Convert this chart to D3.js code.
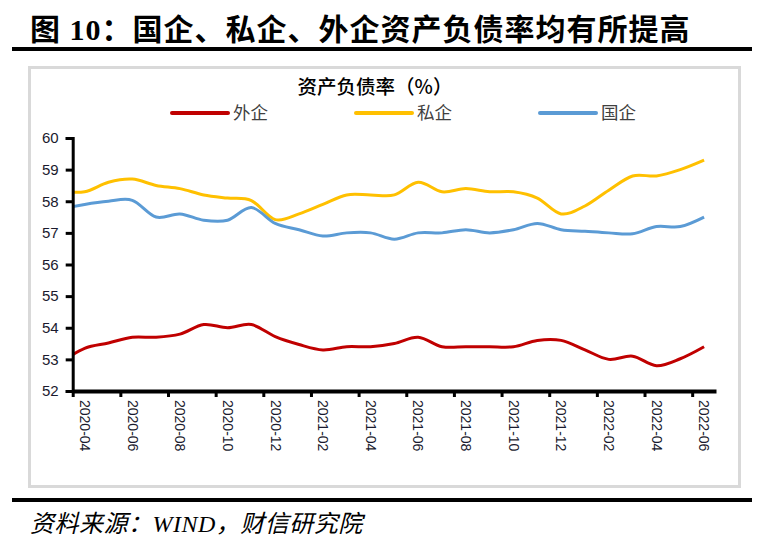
<!DOCTYPE html>
<html><head><meta charset="utf-8">
<script src="https://cdn.jsdelivr.net/npm/d3@7"></script>
<style>
body{margin:0;background:#fff;}
svg{display:block;}
</style></head>
<body>
<svg id="c" width="764" height="547"></svg>
<script>
// months (first one, 2020-03, lies just left of the axis and is clipped)
const months = ["2020-03","2020-04","2020-05","2020-06","2020-07","2020-08","2020-09","2020-10","2020-11","2020-12",
  "2021-01","2021-02","2021-03","2021-04","2021-05","2021-06","2021-07","2021-08","2021-09","2021-10","2021-11","2021-12",
  "2022-01","2022-02","2022-03","2022-04","2022-05","2022-06"];
const foreign = [52.9,53.35,53.52,53.7,53.7,53.8,54.1,54.0,54.1,53.72,53.47,53.3,53.4,53.4,53.5,53.7,53.4,53.4,53.4,53.4,53.6,53.6,53.3,53.0,53.1,52.8,53.02,53.4];
const privateE = [58.32,58.3,58.6,58.7,58.5,58.4,58.2,58.1,58.02,57.42,57.6,57.9,58.2,58.2,58.2,58.6,58.3,58.4,58.3,58.3,58.1,57.6,57.85,58.35,58.8,58.8,59.0,59.3];
const stateE = [57.75,57.9,58.0,58.03,57.5,57.6,57.4,57.4,57.8,57.3,57.1,56.9,57.0,57.0,56.8,57.0,57.0,57.1,57.0,57.1,57.3,57.1,57.05,57.0,56.97,57.2,57.2,57.5];
const yTicks = [52,53,54,55,56,57,58,59,60];
const seriesNames = ["外企","私企","国企"];
const seriesColors = ["#c00000","#ffc000","#5b9bd5"];
const seriesData = [foreign, privateE, stateE];

const svg = d3.select("#c");
const x = d3.scaleLinear().domain([0.5, 27.5]).range([72.7, 716]);
const y = d3.scaleLinear().domain([52, 60]).range([391, 138]);

// title
svg.append("text").attr("x",30).attr("y",40)
  .style("font-family","'Liberation Serif','Noto Sans CJK SC'").style("font-weight","bold").style("font-size","30px")
  .style("letter-spacing","1px")
  .text("图 10：国企、私企、外企资产负债率均有所提高");
svg.append("rect").attr("x",12).attr("y",47).attr("width",740).attr("height",4).attr("fill","#000");
// chart box
svg.append("rect").attr("x",29.5).attr("y",67.5).attr("width",710).attr("height",419)
  .attr("fill","#fff").attr("stroke","#d9d9d9").attr("stroke-width",3);
// subtitle
svg.append("text").attr("x",375).attr("y",94).attr("text-anchor","middle")
  .style("font-family","'Noto Sans CJK SC'").style("font-weight","500").style("font-size","19.5px").attr("fill","#000")
  .text("资产负债率（%）");
// legend
const legX = [172, 356, 540];
seriesNames.forEach((n,i)=>{
  svg.append("line").attr("x1",legX[i]).attr("x2",legX[i]+56).attr("y1",113).attr("y2",113)
    .attr("stroke",seriesColors[i]).attr("stroke-width",4).attr("stroke-linecap","round");
  svg.append("text").attr("x",legX[i]+61).attr("y",119)
    .style("font-family","'Noto Sans CJK SC'").style("font-size","17.5px").attr("fill","#404040").text(n);
});

// clip
svg.append("clipPath").attr("id","plot").append("rect")
  .attr("x",x.range()[0]).attr("y",120).attr("width",x.range()[1]-x.range()[0]).attr("height",280);

// lines
const line = d3.line().x((d,i)=>x(i)).y(d=>y(d)).curve(d3.curveCardinal.tension(0));
seriesData.forEach((s,i)=>{
  svg.append("path").datum(s).attr("d",line).attr("fill","none")
    .attr("stroke",seriesColors[i]).attr("stroke-width",3).attr("clip-path","url(#plot)");
});

// y axis
const yAxis = svg.append("g").attr("transform",`translate(${x.range()[0]},0)`)
  .call(d3.axisLeft(y).tickValues(yTicks).tickSize(7).tickPadding(7).tickFormat(d3.format("d")));
yAxis.select(".domain").attr("stroke","#000").attr("stroke-width",3);
yAxis.selectAll(".tick line").attr("stroke","#000").attr("stroke-width",3);
yAxis.selectAll(".tick text").style("font-family","Arial,'Liberation Sans'").style("font-size","15px").attr("fill","#1a1a2e");

// x axis: tick marks at boundaries of every second month
const tickIdx = d3.range(1, months.length, 2);
const xAxis = svg.append("g").attr("transform",`translate(0,${y(52)})`)
  .call(d3.axisBottom(x).tickValues(tickIdx.map(i=>i-0.5)).tickSize(6).tickFormat("").tickSizeOuter(0));
xAxis.select(".domain").attr("stroke","#000").attr("stroke-width",4);
xAxis.selectAll(".tick line").attr("stroke","#000").attr("stroke-width",3);
svg.append("g").selectAll("text").data(tickIdx).join("text")
  .attr("transform",i=>`translate(${x(i)-1},400) rotate(90)`)
  .attr("dominant-baseline","middle")
  .style("font-family","Arial,'Liberation Sans'").style("font-size","14px").attr("fill","#1a1a2e")
  .text(i=>months[i]);

// bottom rule and source
svg.append("rect").attr("x",12).attr("y",498).attr("width",740).attr("height",4).attr("fill","#000");
svg.append("text").attr("x",30).attr("y",532)
  .style("font-family","'Liberation Serif','Noto Sans CJK SC'").style("font-style","italic").style("font-size","24px")
  .style("letter-spacing","0.5px")
  .text("资料来源：WIND，财信研究院");
</script>
</body></html>
